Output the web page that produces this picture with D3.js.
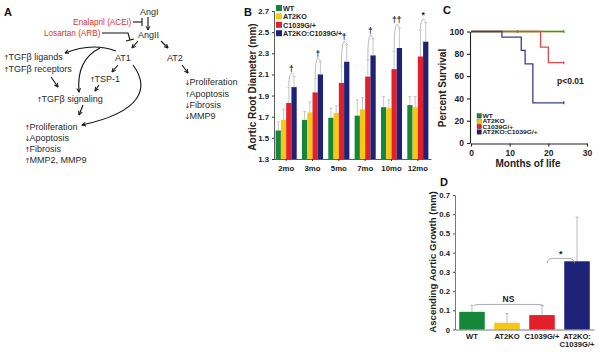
<!DOCTYPE html>
<html>
<head>
<meta charset="utf-8">
<script src="https://cdn.jsdelivr.net/npm/d3@7"></script>
<style>
  body { margin: 0; background: #fff; }
  svg { display: block; font-family: 'Liberation Sans', Arial, Helvetica, sans-serif; }
</style>
</head>
<body>
<div id="chart"></div>
<script>
// ---- panel B: aortic root diameter by age ----
const months = ['2mo', '3mo', '5mo', '7mo', '10mo', '12mo'];
const genotypes = ['WT', 'AT2KO', 'C1039G/+', 'AT2KO:C1039G/+'];
const rootWT = [1.57, 1.67, 1.69, 1.71, 1.79, 1.81];
const rootAT2KO = [1.67, 1.74, 1.735, 1.77, 1.78, 1.79];
const rootC1039G = [1.83, 1.93, 2.02, 2.08, 2.15, 2.27];
const rootDouble = [1.98, 2.10, 2.22, 2.28, 2.35, 2.41];
const errWT = [0.08, 0.08, 0.09, 0.15, 0.10, 0.08];
const errAT2KO = [0.10, 0.10, 0.07, 0.11, 0.08, 0.10];
const errC1039G = [0.15, 0.13, 0.16, 0.16, 0.17, 0.25];
const errDouble = [0.10, 0.12, 0.16, 0.16, 0.19, 0.18];
const sigMarks = ['\u2020', '\u2020', '\u2020', '\u2020', '\u2020\u2020', '*'];
const rootTicks = [1.3, 1.5, 1.7, 1.9, 2.1, 2.3, 2.5, 2.7];

// ---- panel C: survival ----
const survWT = { months: [0, 24], pct: [100, 100], censor: [12, 24] };
const survAT2KO = { months: [0, 24], pct: [100, 100], censor: [] };
const survC1039G = { months: [0, 18, 20, 24], pct: [100, 86, 72, 72], censor: [24] };
const survDouble = { months: [0, 8, 13, 14, 16, 24], pct: [100, 95, 83, 71, 36, 36], censor: [24] };
const survTicksY = [0, 20, 40, 60, 80, 100];
const survTicksX = [0, 10, 20, 30];

// ---- panel D: ascending aortic growth ----
const growthGroups = ['WT', 'AT2KO', 'C1039G/+', 'AT2KO:C1039G/+'];
const growthMean = [0.092, 0.035, 0.075, 0.355];
const growthErr = [0.034, 0.048, 0.05, 0.23];
const growthTicks = [0, 0.1, 0.2, 0.3, 0.4, 0.5, 0.6, 0.7];

const colors = ['#14873a', '#f6c714', '#e2202a', '#1e2276'];
const lineColors = ['#2f9a4c', '#f2c623', '#e0474b', '#3a3d8c'];
const FONT = "'Liberation Sans', Arial, Helvetica, sans-serif";

const svg = d3.select('#chart').append('svg')
    .attr('width', 600)
    .attr('height', 352);

svg.append('rect').attr('width', 600).attr('height', 352).attr('fill', '#fff');

const defs = svg.append('defs');
defs.append('marker')
    .attr('id', 'arr')
    .attr('viewBox', '0 0 8 8')
    .attr('refX', 7).attr('refY', 4)
    .attr('markerWidth', 5).attr('markerHeight', 5)
    .attr('markerUnits', 'userSpaceOnUse')
    .attr('orient', 'auto')
    .append('path')
    .attr('d', 'M1,1 L7,4 L1,7')
    .attr('fill', 'none')
    .attr('stroke', '#111')
    .attr('stroke-width', 1.6);

function panelLabel(t, x, y) {
    svg.append('text').attr('x', x).attr('y', y)
        .attr('font-size', 11).attr('font-weight', 'bold').attr('fill', '#111')
        .text(t);
}

// ================= Panel A: pathway diagram =================
function drawDiagram() {
    panelLabel('A', 4, 16);
    const g = svg.append('g');
    const ink = '#2a2a2a';
    // arrow prefix: 'u' up, 'd' down, '' none
    const labels = [
        { a: '', t: 'AngI', x: 140, y: 15 },
        { a: '', t: 'AngII', x: 138, y: 38 },
        { a: '', t: 'AT1', x: 115, y: 61 },
        { a: '', t: 'AT2', x: 167, y: 61 },
        { a: 'u', t: 'TGF\u03b2 ligands', x: 4, y: 60 },
        { a: 'u', t: 'TGF\u03b2 receptors', x: 4, y: 72 },
        { a: 'u', t: 'TSP-1', x: 90, y: 82 },
        { a: 'u', t: 'TGF\u03b2 signaling', x: 37, y: 102 },
        { a: 'u', t: 'Proliferation', x: 25, y: 130 },
        { a: 'd', t: 'Apoptosis', x: 25, y: 141 },
        { a: 'u', t: 'Fibrosis', x: 25, y: 152 },
        { a: 'u', t: 'MMP2, MMP9', x: 25, y: 163 },
        { a: 'd', t: 'Proliferation', x: 185, y: 85 },
        { a: 'u', t: 'Apoptosis', x: 185, y: 97 },
        { a: 'd', t: 'Fibrosis', x: 185, y: 108 },
        { a: 'd', t: 'MMP9', x: 185, y: 119 }
    ];
    const tx = g.selectAll('text.node').data(labels).enter().append('text')
        .attr('class', 'node')
        .attr('x', d => d.x).attr('y', d => d.y)
        .attr('font-size', 9).attr('fill', ink);
    tx.filter(d => d.a).append('tspan')
        .attr('font-family', "'DejaVu Sans', sans-serif")
        .attr('font-size', 7)
        .attr('dx', -0.5)
        .text(d => d.a === 'u' ? '\u2191' : '\u2193');
    tx.append('tspan').attr('dx', d => d.a ? -0.8 : 0).text(d => d.t);

    const drugs = [
        { t: 'Enalapril (ACEi)', x: 73, y: 25 },
        { t: 'Losartan (ARB)', x: 44, y: 36 }
    ];
    g.selectAll('text.drug').data(drugs).enter().append('text')
        .attr('class', 'drug')
        .attr('x', d => d.x).attr('y', d => d.y)
        .attr('font-size', 8.2).attr('fill', '#d8322f')
        .text(d => d.t);

    const arrows = [
        'M148,17 L148,30',
        'M138,41 L132,48',
        'M161,41 L168,48',
        'M182,65 L188,73',
        'M118,65 L112,72',
        'M99,85 L95,91',
        'M51,77 L58,87',
        'M116,51 Q92,42 65,53',
        'M100,48 Q76,60 79,92',
        'M83,105 L79,115',
        'M133,65 C150,88 142,112 82,125'
    ];
    g.selectAll('path.arrow').data(arrows).enter().append('path')
        .attr('class', 'arrow')
        .attr('d', d => d)
        .attr('fill', 'none').attr('stroke', '#111').attr('stroke-width', 1.1)
        .attr('marker-end', 'url(#arr)');

    const blocks = [
        'M133,22 L142,22', 'M142,18 L142,26',
        'M102,33 L128,33 L130,40', 'M126,41 L134,39'
    ];
    g.selectAll('path.block').data(blocks).enter().append('path')
        .attr('class', 'block')
        .attr('d', d => d)
        .attr('fill', 'none').attr('stroke', '#111').attr('stroke-width', 1.1);
}

// ================= Panel B: grouped bars =================
function drawRootChart() {
    panelLabel('B', 244, 16);
    const g = svg.append('g');
    const series = [rootWT, rootAT2KO, rootC1039G, rootDouble];
    const errs = [errWT, errAT2KO, errC1039G, errDouble];

    const x0 = d3.scaleBand().domain(months).range([273, 431]).paddingInner(0.2).paddingOuter(0.1);
    const x1 = d3.scaleBand().domain(genotypes).range([0, x0.bandwidth()]);
    const y = d3.scaleLinear().domain([1.3, 2.7]).range([159, 11]);

    const rows = [];
    months.forEach((m, i) => genotypes.forEach((gt, j) => {
        rows.push({ m, gt, j, v: series[j][i], e: errs[j][i] });
    }));

    g.selectAll('rect.bar').data(rows).enter().append('rect')
        .attr('x', d => x0(d.m) + x1(d.gt))
        .attr('y', d => y(d.v))
        .attr('width', x1.bandwidth())
        .attr('height', d => y(1.3) - y(d.v))
        .attr('fill', d => colors[d.j]);

    const eb = g.selectAll('g.err').data(rows).enter().append('g').attr('stroke', '#b8b8b8').attr('stroke-width', 0.8);
    eb.append('line')
        .attr('x1', d => x0(d.m) + x1(d.gt) + x1.bandwidth() / 2)
        .attr('x2', d => x0(d.m) + x1(d.gt) + x1.bandwidth() / 2)
        .attr('y1', d => y(d.v)).attr('y2', d => y(d.v + d.e));
    eb.append('line')
        .attr('x1', d => x0(d.m) + x1(d.gt) + x1.bandwidth() / 2 - 1.5)
        .attr('x2', d => x0(d.m) + x1(d.gt) + x1.bandwidth() / 2 + 1.5)
        .attr('y1', d => y(d.v + d.e)).attr('y2', d => y(d.v + d.e));

    // significance brackets between C1039G/+ and double mutant
    months.forEach((m, i) => {
        const xa = x0(m) + x1('C1039G/+') + x1.bandwidth() / 2;
        const xb = x0(m) + x1('AT2KO:C1039G/+') + x1.bandwidth() / 2;
        const ya = y(rootC1039G[i] + errC1039G[i]);
        const yb = y(rootDouble[i] + errDouble[i]);
        const top = Math.min(ya, yb) - 3.5;
        const xm = (xa + xb) / 2;
        g.append('path')
            .attr('d', `M${xa},${ya - 1} Q${xa},${top + 2} ${xm},${top} Q${xb},${top + 2} ${xb},${yb - 1}`)
            .attr('fill', 'none').attr('stroke', '#a8a8a8').attr('stroke-width', 0.8);
        g.append('text')
            .attr('x', xm).attr('y', top - 1)
            .attr('text-anchor', 'middle')
            .attr('font-size', 8.5).attr('font-weight', 'bold').attr('fill', '#1a1a1a')
            .text(sigMarks[i]);
    });

    const yAxis = g.append('g').attr('transform', 'translate(274,0)')
        .call(d3.axisLeft(y).tickValues(rootTicks).tickFormat(d3.format('.1f')).tickSize(2));
    const xAxis = g.append('g').attr('transform', 'translate(0,159)')
        .call(d3.axisBottom(x0).tickSize(2).tickSizeOuter(0));
    [yAxis, xAxis].forEach(a => {
        a.select('.domain').attr('stroke', '#333').attr('stroke-width', 0.8);
        a.selectAll('.tick line').attr('stroke', '#333');
        a.selectAll('text').attr('font-size', 7.8).attr('font-weight', 'bold')
            .attr('font-family', FONT).attr('fill', '#222');
    });
    xAxis.selectAll('text').attr('dy', '0.9em');

    g.append('text')
        .attr('transform', 'translate(256,87) rotate(-90)')
        .attr('text-anchor', 'middle')
        .attr('font-size', 10).attr('font-weight', 'bold').attr('fill', '#222')
        .text('Aortic Root Diameter (mm)');

    const leg = g.selectAll('g.leg').data(genotypes).enter().append('g')
        .attr('transform', (d, i) => `translate(276,${5 + i * 8.4})`);
    leg.append('rect').attr('width', 6).attr('height', 6).attr('fill', (d, i) => colors[i]);
    leg.append('text').attr('x', 7).attr('y', 5.8)
        .attr('font-size', 7.2).attr('font-weight', 'bold').attr('fill', '#222')
        .text(d => d);
}

// ================= Panel C: survival curves =================
function drawSurvival() {
    panelLabel('C', 443, 14);
    const g = svg.append('g');
    const x = d3.scaleLinear().domain([0, 30]).range([471, 587]);
    const y = d3.scaleLinear().domain([0, 100]).range([143, 31.5]);
    const curves = [survAT2KO, survWT, survC1039G, survDouble];
    const curveColors = [lineColors[1], lineColors[0], lineColors[2], lineColors[3]];

    const line = d3.line().x(d => x(d[0])).y(d => y(d[1])).curve(d3.curveStepAfter);
    curves.forEach((c, k) => {
        const pts = c.months.map((m, i) => [m, c.pct[i]]);
        g.append('path').attr('d', line(pts))
            .attr('fill', 'none').attr('stroke', curveColors[k]).attr('stroke-width', 1.3);
        const last = c.pct[c.pct.length - 1];
        g.selectAll(null).data(c.censor).enter().append('line')
            .attr('x1', d => x(d)).attr('x2', d => x(d))
            .attr('y1', y(last) - 1.5).attr('y2', y(last) + 1.5)
            .attr('stroke', curveColors[k]).attr('stroke-width', 1.2);
    });

    const yAxis = g.append('g').attr('transform', 'translate(470,0)')
        .call(d3.axisLeft(y).tickValues(survTicksY).tickSize(3).tickSizeOuter(0));
    const xAxis = g.append('g').attr('transform', 'translate(0,143.5)')
        .call(d3.axisBottom(x).tickValues(survTicksX).tickSize(3).tickSizeOuter(0));
    [yAxis, xAxis].forEach(a => {
        a.select('.domain').attr('stroke', '#222').attr('stroke-width', 1.1);
        a.selectAll('.tick line').attr('stroke', '#222').attr('stroke-width', 1.1);
        a.selectAll('text').attr('font-size', 8.5).attr('font-weight', 'bold')
            .attr('font-family', FONT).attr('fill', '#222');
    });

    g.append('text')
        .attr('transform', 'translate(446,88) rotate(-90)')
        .attr('text-anchor', 'middle')
        .attr('font-size', 10).attr('font-weight', 'bold').attr('fill', '#222')
        .text('Percent Survival');
    g.append('text')
        .attr('x', 528).attr('y', 167)
        .attr('text-anchor', 'middle')
        .attr('font-size', 10).attr('font-weight', 'bold').attr('fill', '#222')
        .text('Months of life');
    g.append('text')
        .attr('x', 557).attr('y', 84)
        .attr('font-size', 8.5).attr('font-weight', 'bold').attr('fill', '#222')
        .text('p<0.01');

    const leg = g.selectAll('g.leg').data(genotypes).enter().append('g')
        .attr('transform', (d, i) => `translate(477,${113.5 + i * 5.4})`);
    leg.append('rect').attr('width', 4.5).attr('height', 4.5)
        .attr('fill', (d, i) => colors[i]).attr('stroke', '#333').attr('stroke-width', 0.3);
    leg.append('text')
        .attr('transform', 'scale(1.2,1)')
        .attr('x', 4.6).attr('y', 4.4)
        .attr('font-size', 5.6).attr('font-weight', 'bold').attr('fill', '#222')
        .text(d => d);
}

// ================= Panel D: growth bars =================
function drawGrowth() {
    panelLabel('D', 440, 186);
    const g = svg.append('g');
    const x = d3.scaleBand().domain(growthGroups).range([455, 594]).paddingInner(0.27).paddingOuter(0.12);
    const y = d3.scaleLinear().domain([0, 0.7]).range([329.5, 195]);
    const rows = growthGroups.map((gr, i) => ({ gr, i, v: growthMean[i], e: growthErr[i] }));

    g.selectAll('line.err').data(rows).enter().append('line')
        .attr('x1', d => x(d.gr) + x.bandwidth() / 2).attr('x2', d => x(d.gr) + x.bandwidth() / 2)
        .attr('y1', d => y(d.v)).attr('y2', d => y(d.v + d.e))
        .attr('stroke', '#aaa').attr('stroke-width', 0.8);
    g.selectAll('line.cap').data(rows).enter().append('line')
        .attr('x1', d => x(d.gr) + x.bandwidth() / 2 - 1.5).attr('x2', d => x(d.gr) + x.bandwidth() / 2 + 1.5)
        .attr('y1', d => y(d.v + d.e)).attr('y2', d => y(d.v + d.e))
        .attr('stroke', '#aaa').attr('stroke-width', 0.8);
    g.selectAll('rect.bar').data(rows).enter().append('rect')
        .attr('x', d => x(d.gr)).attr('y', d => y(d.v))
        .attr('width', x.bandwidth()).attr('height', d => y(0) - y(d.v))
        .attr('fill', d => colors[d.i]);

    // NS bracket WT .. C1039G/+
    const xa = x('WT') + x.bandwidth() / 2 + 2;
    const xc = x('C1039G/+') + x.bandwidth() / 2 + 1;
    const yN = y(0.12) - 2;
    g.append('path')
        .attr('d', `M${xa},${y(growthMean[0] + growthErr[0]) + 1} Q${xa},${yN} ${xa + 5},${yN} L${xc - 5},${yN} Q${xc},${yN} ${xc},${y(growthMean[2] + growthErr[2]) + 1}`)
        .attr('fill', 'none').attr('stroke', '#999').attr('stroke-width', 0.8);
    g.append('text').attr('x', (xa + xc) / 2).attr('y', yN - 2.5)
        .attr('text-anchor', 'middle').attr('font-size', 8.5).attr('font-weight', 'bold').attr('fill', '#222')
        .text('NS');

    // * bracket C1039G/+ .. double
    const xs1 = x('C1039G/+') + x.bandwidth() * 0.7;
    const xs2 = x('AT2KO:C1039G/+') + x.bandwidth() * 0.4;
    const yS = y(0.37);
    g.append('path')
        .attr('d', `M${xs1},${yS + 5} Q${xs1},${yS} ${xs1 + 6},${yS} L${xs2 - 6},${yS} Q${xs2},${yS} ${xs2},${yS + 5}`)
        .attr('fill', 'none').attr('stroke', '#999').attr('stroke-width', 0.8);
    g.append('text').attr('x', (xs1 + xs2) / 2).attr('y', yS - 1)
        .attr('text-anchor', 'middle').attr('font-size', 9).attr('font-weight', 'bold').attr('fill', '#1a1a1a')
        .text('*');

    const yAxis = g.append('g').attr('transform', 'translate(455,0)')
        .call(d3.axisLeft(y).tickValues(growthTicks)
            .tickFormat(d => d === 0 ? '0' : d3.format('.1f')(d)).tickSize(2).tickSizeOuter(0));
    const xAxis = g.append('g').attr('transform', 'translate(0,329.5)')
        .call(d3.axisBottom(x).tickSize(0).tickSizeOuter(0).tickFormat(() => ''));
    [yAxis, xAxis].forEach(a => {
        a.select('.domain').attr('stroke', '#555').attr('stroke-width', 0.8);
        a.selectAll('.tick line').attr('stroke', '#555');
        a.selectAll('text').attr('font-size', 7.8).attr('font-weight', 'bold')
            .attr('font-family', FONT).attr('fill', '#222');
    });

    const lab = g.selectAll('text.xl').data(rows).enter().append('text')
        .attr('class', 'xl')
        .attr('x', d => x(d.gr) + x.bandwidth() / 2)
        .attr('y', 338.5)
        .attr('text-anchor', 'middle')
        .attr('font-size', 7.6).attr('font-weight', 'bold').attr('fill', '#222');
    lab.each(function (d) {
        const parts = d.gr === 'AT2KO:C1039G/+' ? ['AT2KO:', 'C1039G/+'] : [d.gr];
        d3.select(this).selectAll('tspan').data(parts).enter().append('tspan')
            .attr('x', x(d.gr) + x.bandwidth() / 2)
            .attr('dy', (p, k) => k === 0 ? 0 : 8.6)
            .text(p => p);
    });

    g.append('text')
        .attr('transform', 'translate(436,262) rotate(-90)')
        .attr('text-anchor', 'middle')
        .attr('font-size', 9.6).attr('font-weight', 'bold').attr('fill', '#222')
        .text('Ascending Aortic Growth (mm)');
}

drawDiagram();
drawRootChart();
drawSurvival();
drawGrowth();
</script>
</body>
</html>
